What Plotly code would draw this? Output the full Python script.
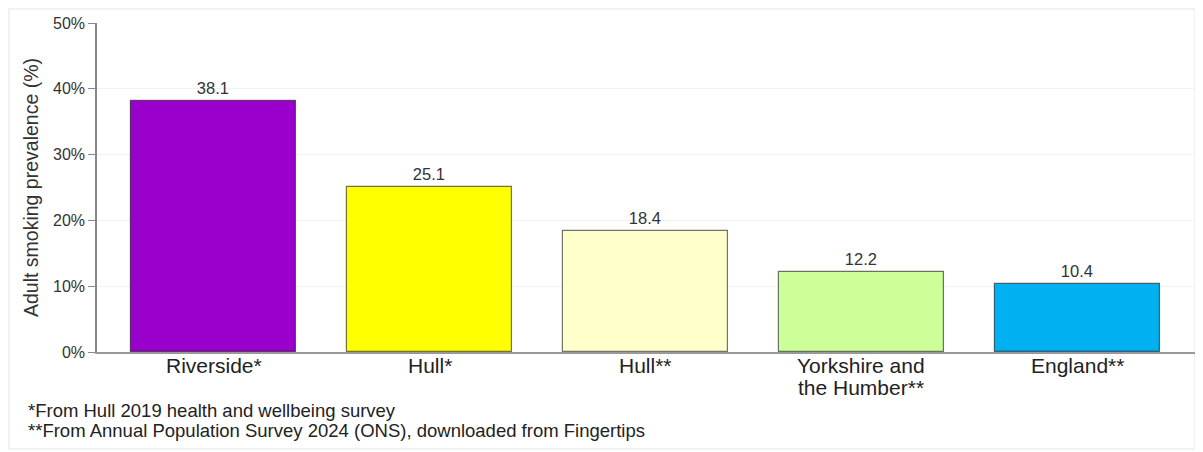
import plotly.graph_objects as go

categories = ["Riverside*", "Hull*", "Hull**", "Yorkshire and<br>the Humber**", "England**"]
values = [38.1, 25.1, 18.4, 12.2, 10.4]
colors = ["#9900CC", "#FFFF00", "#FFFFCC", "#CCFF99", "#00B0F0"]
tick_vals = [0, 10, 20, 30, 40, 50]
tick_text = ["0%", "10%", "20%", "30%", "40%", "50%"]
footnotes = ["*From Hull 2019 health and wellbeing survey",
             "**From Annual Population Survey 2024 (ONS), downloaded from Fingertips"]

W, H = 1195, 444
L, R, T, B = 89, 8, 15, 100
PW = W - L - R
PH = H - T - B
AXIS_Y = T + PH

fig = go.Figure(go.Bar(
    x=list(range(len(categories))), y=values,
    marker=dict(color=colors, line=dict(color="rgba(0,0,0,0.55)", width=1.2)),
    width=0.764,
    text=[f"{v:.1f}" for v in values], textposition="outside",
    textfont=dict(family="Arial, Liberation Sans", size=16.5, color="#333333"),
    cliponaxis=False,
))

fig.update_layout(
    width=W, height=H,
    margin=dict(l=L, r=R, t=T, b=B),
    paper_bgcolor="white", plot_bgcolor="white",
    font=dict(family="Arial, Liberation Sans", color="#333333"),
    showlegend=False,
    bargap=0,
    xaxis=dict(range=[-0.54, 4.545], tickvals=list(range(len(categories))), showticklabels=False,
               showline=True, linecolor="#999999",
               linewidth=2, showgrid=False, ticks="", zeroline=False),
    yaxis=dict(range=[0, 50], tickvals=tick_vals, ticktext=tick_text,
               tickfont=dict(size=16, color="#333333"), showline=True, linecolor="#888888",
               linewidth=1.5, ticks="outside", ticklen=7, tickcolor="#888888",
               gridcolor="#eef3f3", gridwidth=1, zeroline=False,
               title=dict(text="Adult smoking prevalence (%)", font=dict(size=19.5, color="#333333"), standoff=9)),
)

# category labels (tight line spacing as in the reference)
for i, cat in enumerate(categories):
    for j, line in enumerate(cat.split("<br>")):
        yc = 357 + 22 * j
        fig.add_annotation(text=line, xref="x", yref="paper", x=i, y=1 - (yc - T) / PH,
                           xanchor="center", yanchor="middle", showarrow=False,
                           font=dict(size=21, color="#222222"))

for txt, yc in zip(footnotes, [402, 422]):
    fig.add_annotation(text=txt, xref="paper", yref="paper",
                       x=(19 - 1 - L) / PW, y=1 - (yc - T) / PH,
                       xanchor="left", yanchor="middle", align="left", showarrow=False,
                       font=dict(size=18.5, color="#222222"))

fig.add_shape(type="rect", xref="paper", yref="paper",
              x0=(-L + 1) / PW, x1=1.0, y0=-(B - 3) / PH, y1=1 + (T - 1) / PH,
              line=dict(color="#eef2f2", width=2), layer="below")

fig.write_html("out.html")
